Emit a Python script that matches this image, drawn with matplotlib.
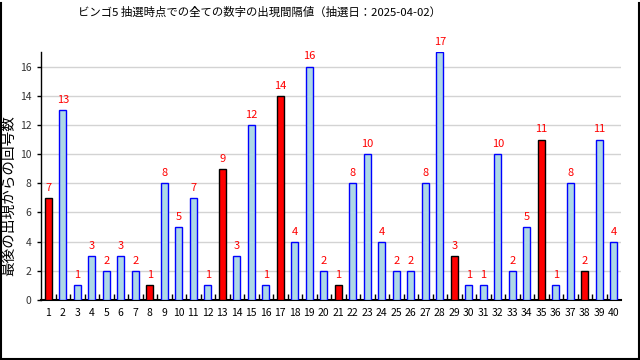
import matplotlib
matplotlib.use("Agg")
import matplotlib.pyplot as plt
from matplotlib.lines import Line2D

plt.rcParams['font.family'] = ['Noto Sans CJK JP', 'DejaVu Sans']

title = "ビンゴ5 抽選時点での全ての数字の出現間隔値（抽選日：2025-04-02）"
ylabel = "最後の出現からの回号数"
numbers = list(range(1, 41))
values = [7, 13, 1, 3, 2, 3, 2, 1, 8, 5, 7, 1, 9, 3, 12, 1, 14, 4, 16, 2,
          1, 8, 10, 4, 2, 2, 8, 17, 3, 1, 1, 10, 2, 5, 11, 1, 8, 2, 11, 4]
drawn = [1, 8, 13, 17, 21, 29, 35, 38]
yticks = [0, 2, 4, 6, 8, 10, 12, 14, 16]

fig = plt.figure(figsize=(6.4, 3.6), dpi=100)
ax = fig.add_axes([41/640, 1-300/360, 580/640, 248/360])

faces = ['red' if n in drawn else '#add8e6' for n in numbers]
edges = ['black' if n in drawn else 'blue' for n in numbers]
ax.bar(numbers, values, width=0.45, color=faces, edgecolor=edges, linewidth=1, zorder=3)
for n, v in zip(numbers, values):
    ax.text(n, v + 0.35, str(v), color='red', ha='center', va='bottom', fontsize=8, zorder=4)

ax.set_xlim(0.5, 40.5)
ax.set_ylim(0, 17)
ax.set_yticks(yticks)
ax.set_xticks(numbers)
ax.set_xticklabels([str(n) for n in numbers], fontsize=7.5)
ax.set_xticks([n + 0.5 for n in numbers[:-1]], minor=True)
ax.tick_params(axis='x', which='major', length=0, pad=6)
ax.tick_params(axis='x', which='minor', direction='in', length=4, width=1, color='black')
ax.tick_params(axis='y', which='major', length=3, width=1, labelsize=7.5, labelcolor='#333333', pad=4)
ax.yaxis.grid(True, color='#d3d3d3', linewidth=1, zorder=0)
ax.set_axisbelow(True)
for s in ['top', 'right']:
    ax.spines[s].set_visible(False)
ax.spines['left'].set_linewidth(1)
ax.spines['bottom'].set_linewidth(1.5)
fig.text(9/640, 1-196/360, ylabel, rotation=90, ha='center', va='center', fontsize=10.5)
fig.text(259/640, 1-12/360, title, ha='center', va='center', fontsize=8.2)

# figure border (left, right, bottom)
for xs, ys in [([0.5/640, 0.5/640], [0, 1-3/360]), ([638.5/640, 638.5/640], [0, 1-3/360]),
               ([0, 1], [1.5/360, 1.5/360])]:
    fig.add_artist(Line2D(xs, ys, color='black', linewidth=1.5, transform=fig.transFigure))

fig.savefig('out.png', dpi=100)
